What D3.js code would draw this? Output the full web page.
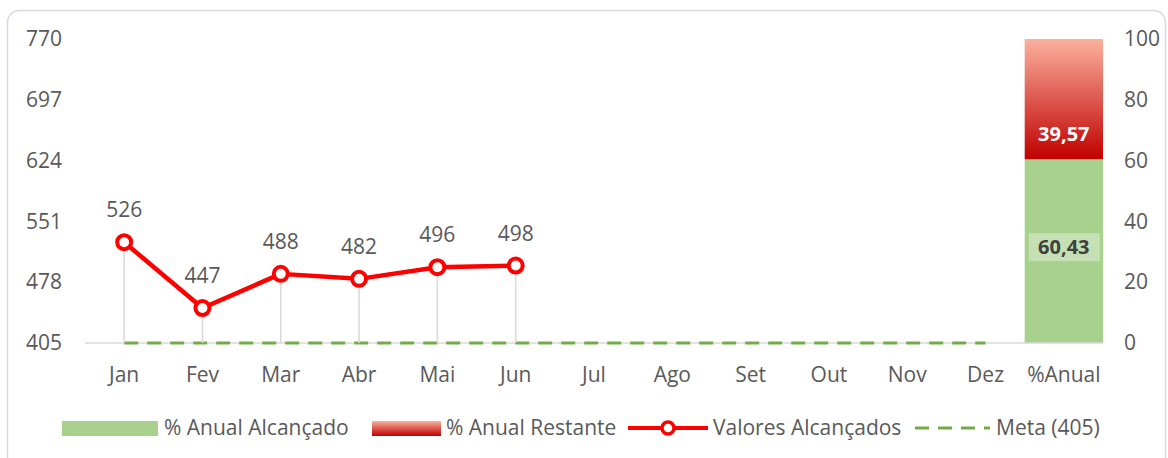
<!DOCTYPE html>
<html>
<head>
<meta charset="utf-8">
<script src="https://cdn.jsdelivr.net/npm/d3@7"></script>
<style>
  body { margin: 0; background: #fff; }
  text { font-family: "Open Sans", Lato, sans-serif; fill: #595959; }
</style>
</head>
<body>
<svg id="chart" width="1168" height="458"></svg>
<script>
// chart data
const categories = ["Jan", "Fev", "Mar", "Abr", "Mai", "Jun", "Jul", "Ago", "Set", "Out", "Nov", "Dez", "%Anual"];
const months = categories.slice(0, 12);
const valores = [526, 447, 488, 482, 496, 498];
const meta = 405;
const leftTicks = [405, 478, 551, 624, 697, 770];
const rightTicks = [0, 20, 40, 60, 80, 100];
const anualAlcancado = 60.43;
const anualRestante = 39.57;

const font = "'Open Sans', Lato, sans-serif";
const fs = "21px";
const svg = d3.select("#chart");

// outer frame
svg.append("rect")
  .attr("x", 7.5).attr("y", 10.5)
  .attr("width", 1158).attr("height", 480)
  .attr("rx", 12)
  .attr("fill", "none")
  .attr("stroke", "#d9d9d9")
  .attr("stroke-width", 1.5);

// scales
const x = d3.scaleBand().domain(categories).range([85, 1103]).padding(0);
const yL = d3.scaleLinear().domain([405, 770]).range([343, 39]);
const yR = d3.scaleLinear().domain([0, 100]).range([343, 39]);
const cx = (d) => x(d) + x.bandwidth() / 2;

// gradient for remaining bar
const defs = svg.append("defs");
const grad = defs.append("linearGradient")
  .attr("id", "redGrad").attr("x1", 0).attr("y1", 0).attr("x2", 0).attr("y2", 1);
grad.append("stop").attr("offset", "0%").attr("stop-color", "#fbb19e");
grad.append("stop").attr("offset", "100%").attr("stop-color", "#c00000");

function styleAxis(g) {
  g.select(".domain").remove();
  g.selectAll("text").style("font-size", fs).attr("fill", "#595959")
    .style("font-family", font);
}

// left axis labels
svg.append("g").attr("transform", "translate(62,0)")
  .call(d3.axisLeft(yL).tickValues(leftTicks).tickSize(0).tickPadding(0))
  .call(styleAxis);

// right axis labels
svg.append("g").attr("transform", "translate(1124,0)")
  .call(d3.axisRight(yR).tickValues(rightTicks).tickSize(0).tickPadding(0))
  .call(styleAxis);

// bottom axis labels
svg.append("g").attr("transform", "translate(0,343)")
  .call(d3.axisBottom(x).tickSize(0).tickPadding(24))
  .call(styleAxis);

// stacked bar for %Anual
svg.append("rect")
  .attr("x", x("%Anual")).attr("width", x.bandwidth())
  .attr("y", yR(anualAlcancado)).attr("height", yR(0) - yR(anualAlcancado))
  .attr("fill", "#a9d18e");
svg.append("rect")
  .attr("x", x("%Anual")).attr("width", x.bandwidth())
  .attr("y", yR(anualAlcancado + anualRestante))
  .attr("height", yR(anualAlcancado) - yR(anualAlcancado + anualRestante))
  .attr("fill", "url(#redGrad)");

// baseline
svg.append("line")
  .attr("x1", 85).attr("x2", 1103)
  .attr("y1", yL(405)).attr("y2", yL(405))
  .attr("stroke", "#d9d9d9").attr("stroke-width", 1.5);

// meta dashed line
const metaLine = d3.line().x((d) => cx(d)).y(() => yL(meta));
svg.append("path")
  .attr("d", metaLine(months))
  .attr("fill", "none")
  .attr("stroke", "#70ad47")
  .attr("stroke-width", 3)
  .attr("stroke-dasharray", "14,9");

// drop lines
svg.selectAll(".drop").data(valores).join("line")
  .attr("x1", (d, i) => cx(months[i])).attr("x2", (d, i) => cx(months[i]))
  .attr("y1", (d) => yL(d)).attr("y2", yL(405))
  .attr("stroke", "#d9d9d9").attr("stroke-width", 1.5);

// values line
const valLine = d3.line().x((d, i) => cx(months[i])).y((d) => yL(d));
svg.append("path")
  .attr("d", valLine(valores))
  .attr("fill", "none")
  .attr("stroke", "#ff0000")
  .attr("stroke-width", 4.5)
  .attr("stroke-linejoin", "round");

svg.selectAll(".pt").data(valores).join("circle")
  .attr("cx", (d, i) => cx(months[i]))
  .attr("cy", (d) => yL(d))
  .attr("r", 7)
  .attr("fill", "#fff")
  .attr("stroke", "#ff0000")
  .attr("stroke-width", 4);

// value labels
svg.selectAll(".lbl").data(valores).join("text")
  .attr("x", (d, i) => cx(months[i]))
  .attr("y", (d) => yL(d) - 25)
  .attr("text-anchor", "middle")
  .style("font-size", fs)
  .text((d) => d);

// bar labels
svg.append("text")
  .attr("x", cx("%Anual")).attr("y", yR(anualAlcancado) - 18)
  .attr("text-anchor", "middle")
  .style("font-size", "20px").style("font-weight", "bold")
  .style("fill", "#fff")
  .text(anualRestante.toFixed(2).replace(".", ","));

const midGreen = yR(anualAlcancado / 2) - 4;
svg.append("rect")
  .attr("x", cx("%Anual") - 35).attr("y", midGreen - 14)
  .attr("width", 71).attr("height", 28)
  .attr("fill", "#c5e0b4");
svg.append("text")
  .attr("x", cx("%Anual")).attr("y", midGreen + 7)
  .attr("text-anchor", "middle")
  .style("font-size", "20px").style("font-weight", "bold")
  .style("fill", "#404040")
  .text(anualAlcancado.toFixed(2).replace(".", ","));

// legend
const legend = svg.append("g").attr("transform", "translate(0,428)");
legend.append("rect").attr("x", 62).attr("y", -7).attr("width", 96).attr("height", 15).attr("fill", "#a9d18e");
legend.append("text").attr("x", 164).attr("y", 7).style("font-size", fs).text("% Anual Alcançado");
legend.append("rect").attr("x", 372).attr("y", -7).attr("width", 69).attr("height", 15).attr("fill", "url(#redGrad)");
legend.append("text").attr("x", 446).attr("y", 7).style("font-size", fs).text("% Anual Restante");
legend.append("line").attr("x1", 628).attr("x2", 708).attr("y1", 0).attr("y2", 0)
  .attr("stroke", "#ff0000").attr("stroke-width", 4);
legend.append("circle").attr("cx", 668).attr("cy", 0).attr("r", 6)
  .attr("fill", "#fff").attr("stroke", "#ff0000").attr("stroke-width", 3.5);
legend.append("text").attr("x", 713).attr("y", 7).style("font-size", fs).text("Valores Alcançados");
legend.append("line").attr("x1", 915).attr("x2", 990).attr("y1", 0).attr("y2", 0)
  .attr("stroke", "#70ad47").attr("stroke-width", 3).attr("stroke-dasharray", "14,9");
legend.append("text").attr("x", 996).attr("y", 7).style("font-size", fs).text("Meta (405)");
</script>
</body>
</html>
